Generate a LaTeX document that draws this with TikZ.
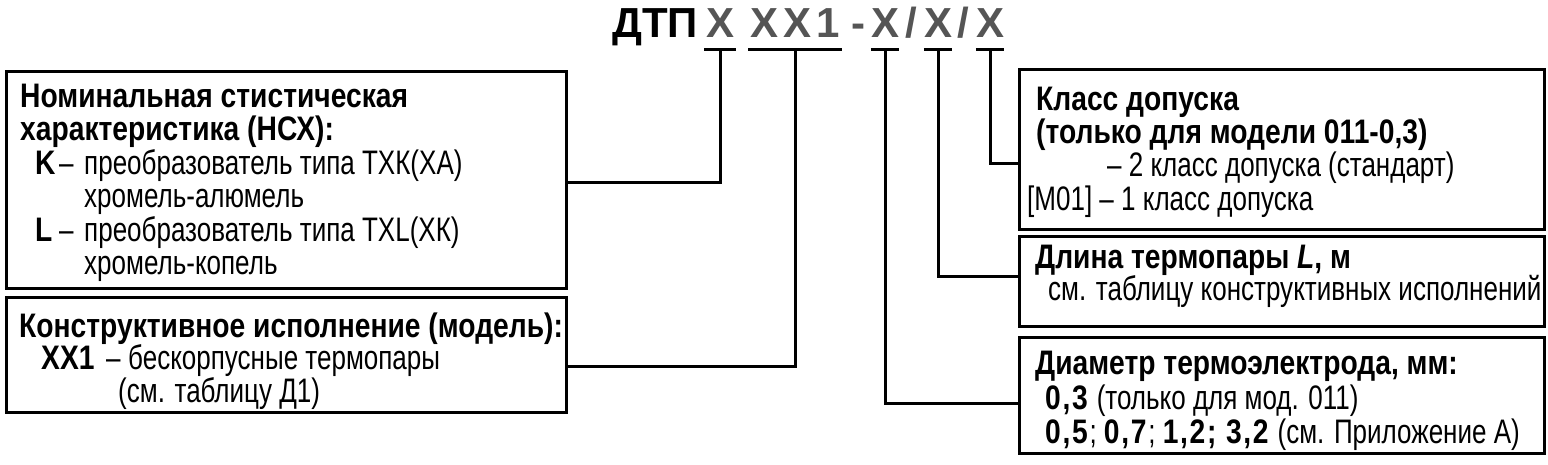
\documentclass[tikz,border=0pt]{standalone}
\usepackage{fontspec}
\setmainfont{Liberation Sans}[FakeStretch=0.765,BoldFeatures={FakeStretch=0.83},BoldItalicFeatures={FakeStretch=0.83}]
\newfontfamily\titlefont{Liberation Sans}
\definecolor{xgray}{RGB}{85,85,85}
\newcommand{\bodysize}{\fontsize{34}{36}\selectfont}
\newcommand{\spnum}[1]{\textbf{\addfontfeature{LetterSpace=5}#1}}
\begin{document}
\begin{tikzpicture}[x=1pt,y=-1pt,
  frame/.style={draw,line width=3pt,inner sep=0pt,anchor=north west},
  wire/.style={line width=3pt},
  txt/.style={anchor=base west,inner sep=0pt,font=\bodysize},
  ttl/.style={anchor=base,inner sep=0pt,font=\titlefont\fontsize{42}{46}\selectfont\bfseries,text=xgray},
  uline/.style={line width=3pt}]
\useasboundingbox (0,0) rectangle (1548,465);
% title
\node[ttl,anchor=base west,text=black] (dtp) at (612,38) {ДТП};
\node[ttl,minimum width=31pt] (t1) at (720,38) {X};
\node[ttl,minimum width=93pt] (t2) at (795,38) {X\hspace{5pt}X\hspace{5pt}1};
\node[ttl] (dash) at (858,38) {-};
\node[ttl,minimum width=28pt] (t3) at (885,38) {X};
\node[ttl] (sl1) at (911,38) {/};
\node[ttl,minimum width=28pt] (t4) at (938,38) {X};
\node[ttl] (sl2) at (963,38) {/};
\node[ttl,minimum width=28pt] (t5) at (990,38) {X};
\foreach \t in {t1,t2,t3,t4,t5}{
  \draw[uline] ([yshift=-12pt]\t.base west) -- ([yshift=-12pt]\t.base east);
}
% boxes
\node[frame,minimum width=560pt,minimum height=217pt] (b1) at (5,70) {};
\node[frame,minimum width=560pt,minimum height=115pt] (b2) at (5,296) {};
\node[frame,minimum width=525pt,minimum height=160pt] (b3) at (1018,68) {};
\node[frame,minimum width=525pt,minimum height=90pt] (b4) at (1018,235) {};
\node[frame,minimum width=525pt,minimum height=116pt] (b5) at (1018,336) {};
% connector levels
\coordinate (c1) at (0,183);
\coordinate (c2) at (0,366);
\coordinate (c3) at (0,403);
\coordinate (c4) at (0,277);
\coordinate (c5) at (0,164);
\draw[wire] ([yshift=-12pt]t1.base) |- (b1.east |- c1);
\draw[wire] ([yshift=-12pt]t2.base) |- (b2.east |- c2);
\draw[wire] ([yshift=-12pt]t3.base) |- (b5.west |- c3);
\draw[wire] ([yshift=-12pt]t4.base) |- (b4.west |- c4);
\draw[wire] ([yshift=-12pt]t5.base) |- (b3.west |- c5);
% box 1
\node[txt] (l11) at (20,108) {\textbf{Номинальная стистическая}};
\node[txt] (l12) at (20,141) {\textbf{характеристика (НСХ):}};
\node[txt] (l13a) at (35,175) {\textbf{K}};
\node[txt] (l13b) at (59,175) {–};
\node[txt] (l13c) at (84,175) {преобразователь типа ТХК(ХА)};
\node[txt] (l14) at (84,208) {хромель-алюмель};
\node[txt] (l15a) at (35,242) {\textbf{L}};
\node[txt] (l15b) at (59,242) {–};
\node[txt] (l15c) at (84,242) {преобразователь типа ТХL(ХК)};
\node[txt] (l16) at (84,275) {хромель-копель};
% box 2
\node[txt] (l21) at (19,337) {\textbf{Конструктивное исполнение (модель):}};
\node[txt] (l22a) at (41,369) {\textbf{XX1}};
\node[txt] (l22b) at (106,369) {–};
\node[txt] (l22c) at (128,369) {бескорпусные термопары};
\node[txt] (l23) at (118,402) {(см. таблицу Д1)};
% box 3
\node[txt] (l31) at (1036,111) {\textbf{Класс допуска}};
\node[txt] (l32) at (1036,144) {\textbf{(только для модели 011-0,3)}};
\node[txt] (l33) at (1107,177) {– 2 класс допуска (стандарт)};
\node[txt] (l34) at (1027,211) {[M01] – 1 класс допуска};
% box 4
\node[txt] (l41) at (1035,269) {\textbf{Длина термопары \textit{L}, м}};
\node[txt] (l42) at (1048,301) {см. таблицу конструктивных исполнений};
% box 5
\node[txt] (l51) at (1035,374) {\textbf{Диаметр термоэлектрода, мм:}};
\node[txt] (l52) at (1045,409) {\spnum{0,3} (только для мод. 011)};
\node[txt] (l53) at (1045,443) {\spnum{0,5}; \spnum{0,7}; \spnum{1,2; 3,2} (см. Приложение А)};
\end{tikzpicture}
\end{document}
